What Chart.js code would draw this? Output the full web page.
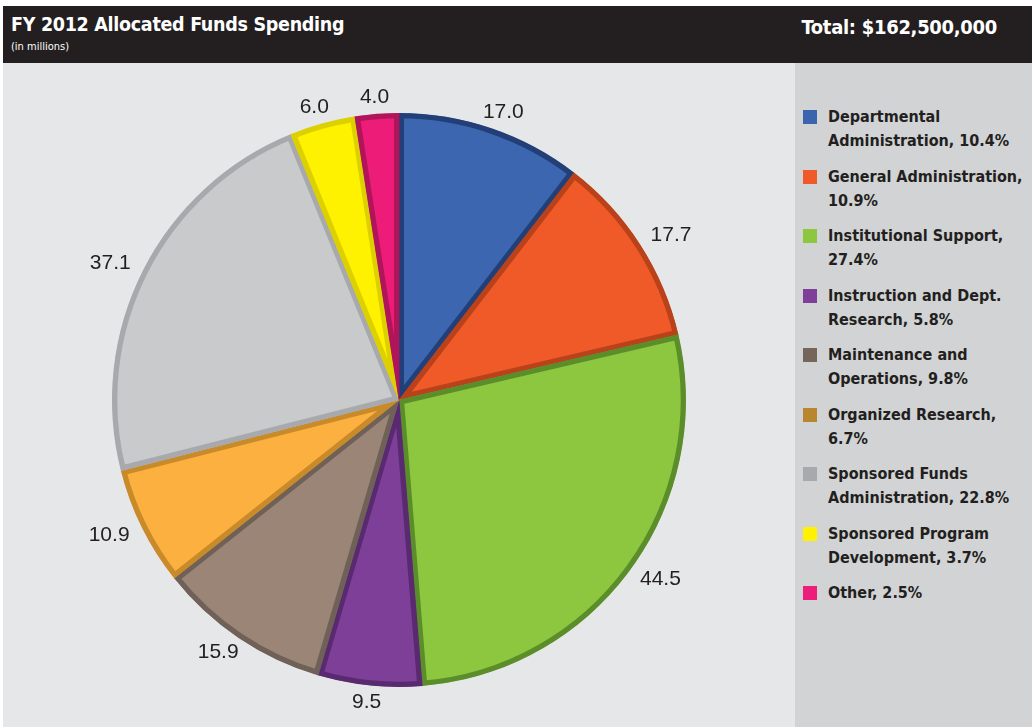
<!DOCTYPE html>
<html>
<head>
<meta charset="utf-8">
<script src="https://cdn.jsdelivr.net/npm/chart.js@4.4.0/dist/chart.umd.min.js"></script>
<style>
  html, body { margin: 0; padding: 0; background: #fff; }
  #page { position: relative; width: 1032px; height: 727px; overflow: hidden; }
  .cond { font-family: 'DejaVu Sans Condensed', 'DejaVu Sans', sans-serif; font-stretch: condensed; }
  #header { position: absolute; left: 3px; top: 6px; width: 1029px; height: 57px; background: #231f20; color: #fff; }
  #title { position: absolute; left: 8px; top: 7px; font-size: 19.5px; font-weight: bold; letter-spacing: -0.3px; }
  #sub { position: absolute; left: 8px; top: 34px; font-size: 11px; }
  #total { position: absolute; right: 35px; top: 9px; font-size: 20px; font-weight: bold; letter-spacing: -0.3px; }
  #plot { position: absolute; left: 3px; top: 63px; width: 792px; height: 664px; background: #e6e7e8; }
  #side { position: absolute; left: 795px; top: 63px; width: 237px; height: 664px; background: #d1d3d4; }
  #legend { position: absolute; left: 8px; top: 42px; margin: 0; padding: 0; list-style: none;
    font-weight: bold; font-size: 16px; line-height: 24px; color: #231f20; white-space: pre-line; }
  #legend li { position: relative; padding-left: 25px; width: 210px; height: 59.5px; }
  #legend span.sw { position: absolute; left: 0; top: 5px; width: 14px; height: 14px; }
</style>
</head>
<body>
<div id="page">
  <div id="header" class="cond">
    <div id="title">FY 2012 Allocated Funds Spending</div>
    <div id="sub">(in millions)</div>
    <div id="total">Total: $162,500,000</div>
  </div>
  <div id="plot"><canvas id="pie"></canvas></div>
  <div id="side"><ul id="legend" class="cond"></ul></div>
</div>
<script>
// slices clockwise from 12 o'clock
const categories = ['Departmental Administration', 'General Administration', 'Institutional Support',
  'Instruction and Dept. Research', 'Maintenance and Operations', 'Organized Research',
  'Sponsored Funds Administration', 'Sponsored Program Development', 'Other'];
// legend wording as printed, with its line breaks
const legendText = ['Departmental\nAdministration, 10.4%', 'General Administration,\n10.9%', 'Institutional Support,\n27.4%',
  'Instruction and Dept.\nResearch, 5.8%', 'Maintenance and\nOperations, 9.8%', 'Organized Research,\n6.7%',
  'Sponsored Funds\nAdministration, 22.8%', 'Sponsored Program\nDevelopment, 3.7%', 'Other, 2.5%'];
const spending = [17.0, 17.7, 44.5, 9.5, 15.9, 10.9, 37.1, 6.0, 4.0];

const fills = ['#3c66b0', '#f05a28', '#8dc63f', '#7e3f98', '#9b8577', '#fbb040', '#c9cacc', '#fff200', '#ee1c79'];
const edges = ['#233f78', '#b9421b', '#5c8d2b', '#592a70', '#6f6158', '#c98a2a', '#a7a9ac', '#dcd000', '#b0155a'];
const swatches = ['#3b64ae', '#f0592a', '#8dc63f', '#7f3f98', '#75665b', '#b8862f', '#a7a9ac', '#fff200', '#ed1e79'];

// value labels just outside each slice
const outsideLabels = {
  id: 'outsideLabels',
  afterDatasetsDraw(chart) {
    const ctx = chart.ctx;
    const meta = chart.getDatasetMeta(0);
    ctx.save();
    ctx.font = '21px "Liberation Sans", Arial, sans-serif';
    ctx.fillStyle = '#231f20';
    ctx.textAlign = 'center';
    ctx.textBaseline = 'middle';
    meta.data.forEach((arc, i) => {
      const { x, y, startAngle, endAngle, outerRadius } = arc.getProps(['x', 'y', 'startAngle', 'endAngle', 'outerRadius'], true);
      const mid = (startAngle + endAngle) / 2;
      const txt = spending[i].toFixed(1);
      const w = ctx.measureText(txt).width;
      const r = outerRadius + 14;
      const cx = x + Math.cos(mid) * (r + w * 0.55);
      const cy = y + Math.sin(mid) * (r + 3);
      ctx.fillText(txt, cx, cy);
    });
    ctx.restore();
  }
};

const chart = new Chart(document.getElementById('pie').getContext('2d'), {
  type: 'pie',
  data: {
    labels: categories,
    datasets: [{
      data: spending,
      backgroundColor: fills,
      borderColor: edges,
      borderWidth: 5,
      hoverBorderWidth: 5,
      borderAlign: 'inner'
    }]
  },
  options: {
    responsive: true,
    maintainAspectRatio: false,
    animation: false,
    layout: { padding: { top: 50, bottom: 40, left: 0, right: 0 } },
    plugins: { legend: { display: false }, tooltip: { enabled: false } }
  },
  plugins: [outsideLabels]
});

// html legend on the grey side panel
const ul = document.getElementById('legend');
legendText.forEach((t, i) => {
  const li = document.createElement('li');
  const sw = document.createElement('span');
  sw.className = 'sw';
  sw.style.background = swatches[i];
  li.appendChild(sw);
  li.appendChild(document.createTextNode(t));
  ul.appendChild(li);
});
</script>
</body>
</html>
